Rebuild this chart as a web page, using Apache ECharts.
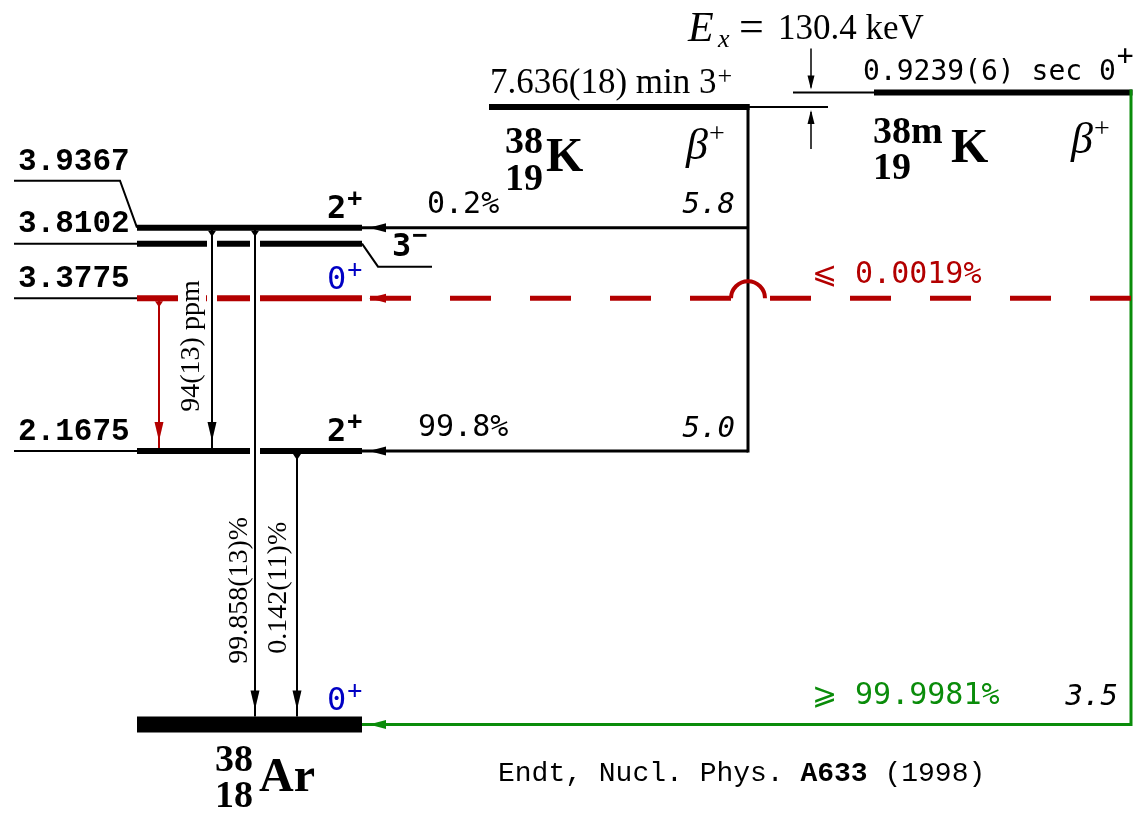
<!DOCTYPE html>
<html><head><meta charset="utf-8">
<script src="https://cdn.jsdelivr.net/npm/echarts@6/dist/echarts.min.js"></script>
<style>html,body{margin:0;padding:0;background:#fff}#c{width:1146px;height:814px}</style>
</head><body><div id="c"></div>
<script>
// ---------- DATA ----------
// Daughter nucleus 38Ar levels (MeV)
const levelEnergies = [0, 2.1675, 3.3775, 3.8102, 3.9367];
const levelLabels   = ['', '2.1675', '3.3775', '3.8102', '3.9367'];
const levelSpins    = ['0', '2', '0', '3', '2'];
const levelParities = ['+', '+', '+', '\u2212', '+'];
// Parents: 38K ground state and 38mK isomer (plotted energy, MeV)
const parentEnergies  = [4.893, 5.008];
const parentHalfLives = ['7.636(18) min', '0.9239(6) sec'];
const parentSpins     = ['3', '0'];
const parentMass      = ['38', '38m'];
const parentZ         = ['19', '19'];
const parentSymbol    = ['K', 'K'];
const isomerEnergyText = '130.4 keV';
const daughterMass = '38', daughterZ = '18', daughterSymbol = 'Ar';
// Beta branches
const betaFromParent = [0, 0, 1, 1];
const betaToLevel    = [4, 1, 2, 0];          // index into levelEnergies
const betaBranches   = ['0.2%', '99.8%', '\u2A7D 0.0019%', '\u2A7E 99.9981%'];
const betaLogft      = ['5.8', '5.0', '', '3.5'];
// Gamma transitions (MeV)
const gammaFrom   = [3.9367, 3.9367, 2.1675, 3.3775];
const gammaTo     = [2.1675, 0, 0, 2.1675];
const gammaLabels = ['94(13) ppm', '99.858(13)%', '0.142(11)%', ''];
const referenceText = ['Endt, Nucl. Phys. ', 'A633', ' (1998)'];

// ---------- LAYOUT / STYLE ----------
const RED = '#b30000', BLUE = '#0000c4', GREEN = '#0a8c0a', BLACK = '#000';
const X = {lbl0:14, lblKink:120, lvl0:137, lvl1:362, arrTip:369, arrBase:386, ext0:378, ext1:432,
  kStart:489, kEnd:748, kLineEnd:828, mLineStart:793, mStart:874, mEnd:1131, exArrow:811, dash0:370};
const DASH = 41, DASH_PERIOD = 80;
const labelLift = [0, 0, 0, 0, 47];
const levelColor = [BLACK, BLACK, RED, BLACK, BLACK];
const spinColor  = [BLUE, BLACK, BLUE, BLACK, BLACK];
const branchColor = [BLACK, BLACK, RED, GREEN];
const branchLabelX = [427, 418, 812, 812];
const logftRightX = [735, 735, 0, 1118];
const gammaX = [212, 255, 297, 159];
const gammaColor = [BLACK, BLACK, BLACK, RED];
const gammaLabelX = [192, 240, 279, 0];
const gammaLabelFrac = [0.53, 0.73, 0.5, 0];

const MONO = "'Liberation Mono'", SMONO = "'DejaVu Sans Mono'", SERIF = "'Liberation Serif'";
const F = {
  lvl:{size:31, family:MONO, weight:'bold'},
  spin:{size:32, family:SMONO, weight:'bold'}, spinSup:{size:25, family:SMONO, weight:'bold'},
  spinB:{size:32, family:SMONO}, spinBSup:{size:25, family:SMONO},
  br:{size:30, family:SMONO}, ft:{size:29, family:SMONO, style:'italic'},
  gam:{size:28, family:SERIF},
  hl0:{size:35, family:SERIF}, hl0Sup:{size:26, family:SERIF},
  hl1:{size:28, family:SMONO}, hl1Sup:{size:28, family:SMONO},
  num:{size:38, family:SERIF, weight:'bold'}, sym:{size:48, family:SERIF, weight:'bold'},
  beta:{size:44, family:SERIF, style:'italic'}, betaSup:{size:28, family:SERIF},
  exE:{size:42, family:SERIF, style:'italic'}, exSub:{size:26, family:SERIF, style:'italic'},
  exEq:{size:44, family:SERIF}, ex:{size:35, family:SERIF},
  ref:{size:28, family:MONO}, refB:{size:28, family:MONO, weight:'bold'}
};
const mctx = document.createElement('canvas').getContext('2d');
function fontStr(f){ return (f.style||'normal')+' '+(f.weight||'normal')+' '+f.size+'px '+f.family; }
function tw(f, s){ mctx.font = fontStr(f); return mctx.measureText(s).width; }

function renderScheme(params, api) {
  const ch = [], texts = [], top = [];
  const px = x => api.coord([x, 0])[0];
  const py = e => api.coord([0, e])[1];
  const mkL = (pts, stroke, w) => ({type:'polyline', silent:true, shape:{points:pts},
    style:{stroke:stroke, lineWidth:w, fill:null}});
  const L = (pts, stroke, w) => ch.push(mkL(pts, stroke, w));
  const G = (pts, fill) => ch.push({type:'polygon', silent:true, shape:{points:pts}, style:{fill:fill, stroke:null}});
  const T = (x, y, s, f, fill, align, rot, extra) => {
    texts.push({type:'text', silent:true, x:x, y:y, rotation:rot||0,
      style:Object.assign({text:s, fontSize:f.size, fontFamily:f.family, fontWeight:f.weight||'normal',
        fontStyle:f.style||'normal', fill:fill, align:align||'left', textAlign:align||'left',
        verticalAlign:'middle', textVerticalAlign:'middle'}, extra||{})});
    return tw(f, s);
  };
  const sup = (x, y, base, s, fb, fs, fill, dy) => { const w = T(x, y, base, fb, fill, 'left'); T(x + w + 1, y - dy, s, fs, fill, 'left'); return w; };

  const yL = levelEnergies.map(py);
  const yP = parentEnergies.map(py);
  const half = levelEnergies.map((e, i) => i === 0 ? 8 : 3);

  // label lines + energy labels
  levelLabels.forEach((lab, i) => {
    if (!lab) return;
    const y = yL[i], lift = labelLift[i];
    if (lift) L([[px(X.lbl0), y - lift], [px(X.lblKink), y - lift], [px(X.lvl0), y]], BLACK, 2);
    else L([[px(X.lbl0), y], [px(X.lvl0), y]], BLACK, 2);
    T(px(X.lbl0) + 4, y - lift - 19, lab, F.lvl, BLACK, 'left');
  });
  // level bars
  levelEnergies.forEach((e, i) => L([[px(X.lvl0), yL[i]], [px(X.lvl1), yL[i]]], levelColor[i], i === 0 ? 16 : 6));
  // 3- extension
  L([[px(X.lvl1), yL[3]], [px(X.ext0), yL[3] + 23], [px(X.ext1), yL[3] + 23]], BLACK, 2);
  // spin labels
  levelSpins.forEach((s, i) => {
    const blue = spinColor[i] === BLUE;
    if (i === 3) { sup(px(392), yL[3] + 4, s, levelParities[i], F.spin, F.spinSup, BLACK, 11); return; }
    const yc = yL[i] - half[i] - 15;
    sup(px(327), yc, s, levelParities[i], blue ? F.spinB : F.spin, blue ? F.spinBSup : F.spinSup, spinColor[i], 10);
  });

  // parents
  L([[px(X.kStart), yP[0]], [px(X.kEnd) + 1.5, yP[0]]], BLACK, 6);
  L([[px(X.kEnd), yP[0]], [px(X.kLineEnd), yP[0]]], BLACK, 2);
  L([[px(X.mStart), yP[1]], [px(X.mEnd) + 1.5, yP[1]]], BLACK, 6);
  L([[px(X.mLineStart), yP[1]], [px(X.mStart), yP[1]]], BLACK, 2);
  const xa = px(X.exArrow);
  L([[xa, yP[1] - 44], [xa, yP[1] - 5]], BLACK, 1.5);
  G([[xa - 3.5, yP[1] - 17], [xa + 3.5, yP[1] - 17], [xa, yP[1] - 3]], BLACK);
  L([[xa, yP[0] + 42], [xa, yP[0] + 5]], BLACK, 1.5);
  G([[xa - 3.5, yP[0] + 17], [xa + 3.5, yP[0] + 17], [xa, yP[0] + 3]], BLACK);

  // beta branches
  let lowest0 = yP[0];
  betaBranches.forEach((lab, k) => {
    const i = betaToLevel[k], y = yL[i], col = branchColor[k], p = betaFromParent[k];
    if (p === 0) {
      L([[px(X.lvl1), y], [px(X.kEnd), y]], BLACK, 3);
      lowest0 = Math.max(lowest0, y);
    } else if (col === RED) {
      for (let s = X.dash0; s < X.mEnd; s += DASH_PERIOD) {
        top.push(mkL([[px(s), y], [px(Math.min(s + DASH, X.mEnd)), y]], RED, 5));
      }
      top.push({type:'arc', silent:true, shape:{cx:px(X.kEnd), cy:y, r:17, startAngle:Math.PI, endAngle:2 * Math.PI, clockwise:true},
        style:{stroke:RED, lineWidth:4, fill:null}});
    } else {
      L([[px(X.lvl1), y], [px(X.mEnd), y], [px(X.mEnd), yP[p] - 3]], GREEN, 3);
    }
    G([[px(X.arrTip), y], [px(X.arrBase), y - 4.5], [px(X.arrBase), y + 4.5]], col);
    T(px(branchLabelX[k]), y - half[i] - 20, lab, F.br, col, 'left');
    if (betaLogft[k]) T(px(logftRightX[k]), y - half[i] - 19, betaLogft[k], F.ft, BLACK, 'right');
  });
  L([[px(X.kEnd), yP[0] - 3], [px(X.kEnd), lowest0 + 1.5]], BLACK, 3);

  // gammas: white halos first
  const gi = gammaFrom.map((e, g) => [levelEnergies.indexOf(e), levelEnergies.indexOf(gammaTo[g])]);
  gi.forEach(([iF, iT], g) => {
    const x = px(gammaX[g]);
    L([[x, yL[iF] + half[iF] + 3], [x, yL[iT] - half[iT] - 2]], '#fff', 10);
  });
  gi.forEach(([iF, iT], g) => {
    const x = px(gammaX[g]), ys = yL[iF], ye = yL[iT], col = gammaColor[g];
    L([[x, ys], [x, ye - half[iT]]], col, 2);
    const tip = ye - half[iT] - 7;
    G([[x - 4.5, tip - 19], [x + 4.5, tip - 19], [x, tip]], col);
    G([[x - 4, ys + half[iF]], [x + 4, ys + half[iF]], [x, ys + half[iF] + 6]], col);
    if (gammaLabels[g]) {
      const yc = ys + (ye - ys) * gammaLabelFrac[g];
      T(px(gammaLabelX[g]), yc, gammaLabels[g], F.gam, BLACK, 'center', Math.PI / 2, {backgroundColor:'#fff', padding:[0, 2]});
    }
  });

  // parent texts
  sup(px(490), yP[0] - 23, parentHalfLives[0] + ' ' + parentSpins[0], '+', F.hl0, F.hl0Sup, BLACK, 7);
  sup(px(863), yP[1] - 20, parentHalfLives[1] + ' ' + parentSpins[1], '+', F.hl1, F.hl1Sup, BLACK, 15);
  sup(px(686), yP[0] + 40, '\u03B2', '+', F.beta, F.betaSup, BLACK, 12);
  sup(px(1071), yP[1] + 49, '\u03B2', '+', F.beta, F.betaSup, BLACK, 12);
  // E_x label
  T(px(688), yP[1] - 63, 'E', F.exE, BLACK, 'left');
  T(px(718), yP[1] - 52, 'x', F.exSub, BLACK, 'left');
  T(px(739), yP[1] - 63, '=', F.exEq, BLACK, 'left');
  T(px(778), yP[1] - 63, isomerEnergyText, F.ex, BLACK, 'left');
  // nuclide names
  const nuc = (x, y0, a, z, sym, symX, dA, dZ, dS) => {
    T(x, y0 + dA, a, F.num, BLACK, 'left');
    T(x, y0 + dZ, z, F.num, BLACK, 'left');
    T(symX, y0 + dS, sym, F.sym, BLACK, 'left');
  };
  nuc(px(505), yP[0], parentMass[0], parentZ[0], parentSymbol[0], px(546), 36, 73, 52);
  nuc(px(873), yP[1], parentMass[1], parentZ[1], parentSymbol[1], px(951), 41, 77, 57);
  nuc(px(215), yL[0], daughterMass, daughterZ, daughterSymbol, px(259), 37, 73, 54);
  // reference
  let rx = px(498);
  const ry = yL[0] + 49;
  rx += T(rx, ry, referenceText[0], F.ref, BLACK, 'left');
  rx += T(rx, ry, referenceText[1], F.refB, BLACK, 'left');
  T(rx, ry, referenceText[2], F.ref, BLACK, 'left');

  return {type:'group', children: ch.concat(texts, top)};
}

const chart = echarts.init(document.getElementById('c'), null, {renderer:'canvas'});
chart.setOption({
  backgroundColor:'#fff',
  animation:false,
  grid:{left:0, right:0, top:0, bottom:0, containLabel:false},
  xAxis:{type:'value', min:0, max:1146, show:false},
  yAxis:{type:'value', min:-0.709, max:5.741, show:false},
  series:[{type:'custom', coordinateSystem:'cartesian2d', clip:false, silent:true,
    data:[[0, 0]], encode:{x:0, y:1}, renderItem:renderScheme}]
});
</script></body></html>
